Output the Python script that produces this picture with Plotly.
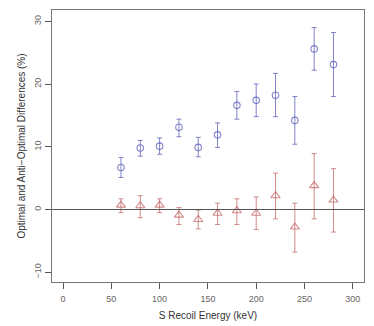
import plotly.graph_objects as go

energy = [60, 80, 100, 120, 140, 160, 180, 200, 220, 240, 260, 280]

opt_diff = [6.7, 9.8, 10.1, 13.1, 9.9, 11.9, 16.6, 17.4, 18.2, 14.2, 25.6, 23.1]
opt_hi = [8.3, 11.0, 11.4, 14.4, 11.5, 13.8, 18.8, 20.0, 21.7, 18.0, 29.0, 28.2]
opt_lo = [5.1, 8.5, 8.8, 11.6, 8.4, 9.9, 14.4, 14.8, 14.8, 10.4, 22.2, 18.0]

anti_diff = [0.7, 0.6, 0.7, -0.9, -1.6, -0.6, -0.2, -0.6, 2.2, -2.8, 3.8, 1.5]
anti_hi = [1.7, 2.2, 1.7, 0.3, -0.1, 1.0, 1.7, 2.0, 5.8, 1.0, 8.9, 6.5]
anti_lo = [-0.5, -1.3, -0.5, -2.4, -3.1, -2.4, -2.4, -3.2, -1.5, -6.8, -1.5, -3.6]

blue = "rgba(90,90,185,0.75)"
red = "rgba(195,100,100,0.75)"

def errs(mid, hi, lo):
    up = [h - m for h, m in zip(hi, mid)]
    dn = [m - l for m, l in zip(mid, lo)]
    return up, dn

up1, dn1 = errs(opt_diff, opt_hi, opt_lo)
up2, dn2 = errs(anti_diff, anti_hi, anti_lo)

fig = go.Figure()
fig.add_trace(go.Scatter(
    x=energy, y=opt_diff, mode="markers",
    marker=dict(symbol="circle-open", size=6.5, color=blue, line=dict(width=1.1)),
    error_y=dict(type="data", array=up1, arrayminus=dn1, color=blue, thickness=1, width=2.5),
))
fig.add_trace(go.Scatter(
    x=energy, y=anti_diff, mode="markers",
    marker=dict(symbol="triangle-up-open", size=8, color=red, line=dict(width=1.1)),
    error_y=dict(type="data", array=up2, arrayminus=dn2, color=red, thickness=1, width=2.5),
))

# zero reference line
fig.add_shape(type="line", xref="paper", x0=0, x1=1, yref="y", y0=0, y1=0,
              line=dict(color="#555555", width=1.2))

axis_font = dict(family="Liberation Sans, Arial, sans-serif", size=9, color="#666666")

# page body has an 8px default margin, so the figure is sized to fit inside it
fig.update_layout(
    width=366, height=318,
    margin=dict(l=44, r=10, t=2, b=44),
    plot_bgcolor="white", paper_bgcolor="white",
    showlegend=False,
    font=dict(family="Liberation Sans, Arial, sans-serif", size=10, color="#333333"),
    xaxis=dict(
        range=[-11.4, 311.6], tickvals=[0, 50, 100, 150, 200, 250, 300],
        showgrid=False, zeroline=False, showline=True, mirror=True, automargin=False,
        linecolor="#777777", linewidth=1.3, ticks="outside", ticklen=6,
        tickcolor="#555555", tickfont=axis_font, ticklabelstandoff=2,
        title=dict(text="S Recoil Energy (keV)", font=dict(size=10, color="#333333"), standoff=9),
    ),
    yaxis=dict(
        range=[-11.56, 31.8], tickvals=[-10, 0, 10, 20, 30], tickangle=-90,
        showgrid=False, zeroline=False, showline=True, mirror=True, automargin=False,
        linecolor="#777777", linewidth=1.3, ticks="outside", ticklen=6,
        tickcolor="#555555", tickfont=axis_font,
        title=dict(text="Optimal and Anti\u2212Optimal Differences (%)",
                   font=dict(size=10, color="#333333"), standoff=5),
    ),
)

fig.write_html("out.html")
